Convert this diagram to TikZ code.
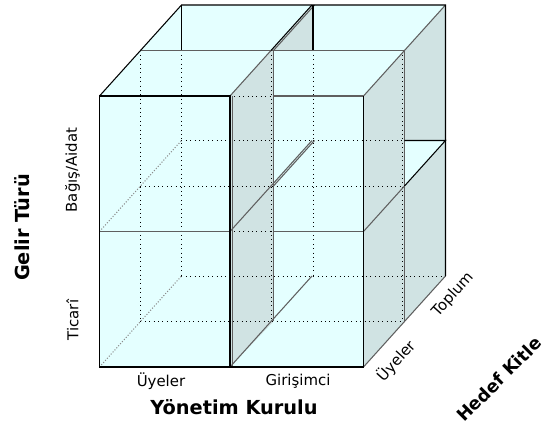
\documentclass[tikz,border=0pt]{standalone}
\usepackage{fontspec}
\setmainfont{DejaVu Sans}
\usepackage{tikz}
\usetikzlibrary{positioning}
\definecolor{CubeFace}{RGB}{228,255,255}
\definecolor{CubeSide}{RGB}{208,227,227}
\definecolor{CubeSeam}{RGB}{95,95,95}

\begin{document}
\begin{tikzpicture}[x=0.2mm, y=-0.2mm,
  face/.style={fill=CubeFace},
  side/.style={fill=CubeSide},
  rim/.style={draw=black, line width=0.6pt},
  seam/.style={draw=CubeSeam, line width=0.6pt},
  hidden/.style={draw=black, line width=0.5pt, dotted},
  hiddengray/.style={draw=black!45, line width=0.6pt, densely dotted},
  tick/.style={font=\fontsize{8.5}{10}\selectfont, inner sep=1pt},
  axis/.style={font=\fontsize{11}{13}\selectfont\bfseries, inner sep=1pt},
]
\useasboundingbox (0,0) rectangle (547,428);
\fill[face] (99.5,96) -- (181.5,5) -- (445.5,5) -- (445.5,276) -- (363.5,367) -- (99.5,367) -- cycle;
\fill[side] (230,96) -- (271,50.5) -- (273.5,50.5) -- (273.5,321.5) -- (230,367) -- cycle;
\fill[side] (271,50.5) -- (312,5) -- (313,5) -- (313,50.5) -- cycle;
\fill[side] (363.5,96) -- (445.5,5) -- (445.5,276) -- (363.5,367) -- cycle;
\fill[face] (404.5,140.5) -- (445.5,140.5) -- (404.5,186) -- cycle;
\draw[hidden] (140.5,50.5) -- (140.5,321.5);
\draw[hidden] (181.5,50.5) -- (181.5,276);
\draw[hidden] (271,50.5) -- (271,321.5);
\draw[hidden] (313,50.5) -- (313,276);
\draw[hidden] (402.5,50.5) -- (402.5,321.5);
\draw[hidden] (230,96) -- (273.5,96);
\draw[hidden] (230,231.5) -- (273.5,231.5);
\draw[hidden] (140.5,186) -- (404.5,186);
\draw[hidden] (181.5,140.5) -- (404.5,140.5);
\draw[hidden] (140.5,321.5) -- (404.5,321.5);
\draw[hidden] (181.5,276) -- (445.5,276);
\draw[hiddengray] (99.5,231.5) -- (181.5,140.5);
\draw[hiddengray] (99.5,367) -- (181.5,276);
\draw[seam] (140.5,50.5) -- (404.5,50.5);
\draw[seam] (273.5,96) -- (363.5,96);
\draw[seam] (99.5,231.5) -- (230,231.5) (273.5,231.5) -- (363.5,231.5);
\draw[seam] (232.5,96) -- (232.5,367);
\draw[seam] (273.5,50.5) -- (273.5,321.5);
\draw[seam] (404.5,50.5) -- (404.5,321.5);
\draw[seam] (230,96) -- (271,50.5);
\draw[seam] (273.5,50.5) -- (314.5,5);
\draw[seam] (230,231.5) -- (271,186) -- (312,140.5) (273.5,186) -- (314.5,140.5);
\draw[seam] (230,367) -- (271,321.5) -- (312,276);
\draw[seam] (363.5,96) -- (445.5,5);
\draw[seam] (363.5,231.5) -- (404.5,186);
\draw[seam] (363.5,367) -- (445.5,276);
\draw[rim] (271,50.5) -- (312,5);
\draw[rim] (404.5,186) -- (445.5,140.5) -- (404.5,140.5);
\draw[rim] (99.5,96) -- (140.5,50.5) -- (181.5,5) -- (445.5,5) -- (445.5,276);
\draw[rim] (99.5,96) -- (99.5,367) -- (363.5,367) -- (363.5,96);
\draw[rim] (99.5,96) -- (230,96) -- (230,367);
\draw[rim] (181.5,5) -- (181.5,50.5) (313,5) -- (313,50.5);
\node[axis, rotate=90] (gelir) at (22.5,227.5) {Gelir Türü};
\node[tick, rotate=90] (bagis) at (72.5,170) {Bağış/Aidat};
\node[tick, rotate=90] (ticari) at (72.5,320) {Ticarî};
\node[tick] (uyeler) at (161,381) {Üyeler};
\node[tick] (girisimci) at (298,381) {Girişimci};
\node[axis] (yonetim) at (234,407) {Yönetim Kurulu};
\node[tick, rotate=48] (uyelerd) at (396,361) {Üyeler};
\node[tick, rotate=48] (toplum) at (453,295) {Toplum};
\node[axis, font=\fontsize{10}{12}\selectfont\bfseries, rotate=45] (hedef) at (499,379) {Hedef Kitle};
\end{tikzpicture}
\end{document}
